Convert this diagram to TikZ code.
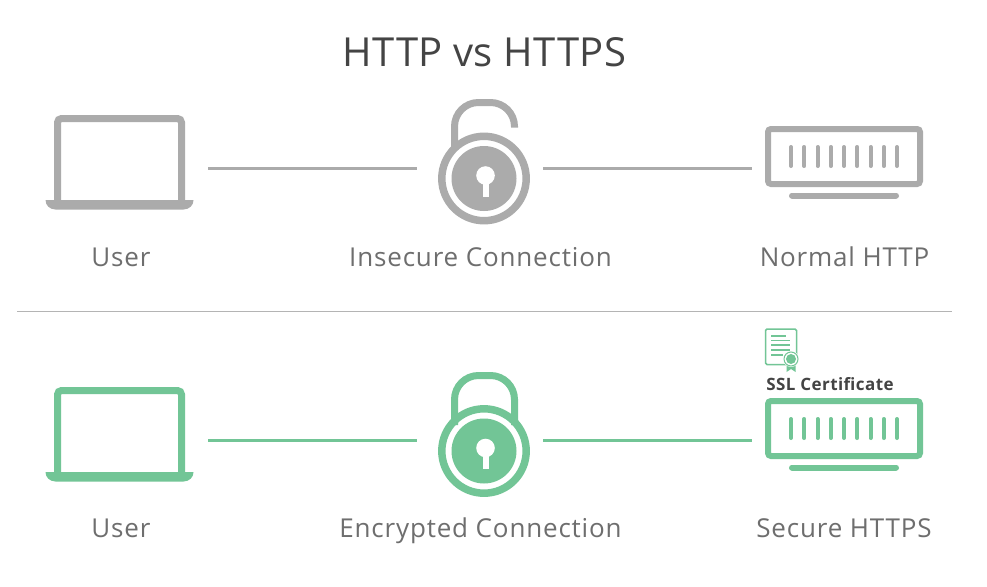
\documentclass[tikz,border=0pt]{standalone}
\usepackage{fontspec}
\setmainfont{Open Sans}[LetterSpace=3.2]
\newfontfamily\ttlfont{Open Sans}[LetterSpace=1]
\newfontfamily\sslfont{Open Sans}[LetterSpace=2.5]
\definecolor{gry}{HTML}{ABABAB}
\definecolor{grn}{HTML}{72C596}
\definecolor{lbl}{HTML}{6E6E6E}
\definecolor{ttl}{HTML}{444444}
\definecolor{dvd}{HTML}{B4B4B4}
\tikzset{
 wire/.style={line width=3pt},
 lab/.style={text=lbl,font=\fontsize{26}{30}\selectfont,inner sep=0pt,anchor=base},
 pics/laptop/.style={code={
  \draw[#1,line width=7pt,rounded corners=4pt] (-62,42) -- (-62,-45.5) -- (62,-45.5) -- (62,42);
  \fill[#1] (-74,36) -- (74,36) .. controls (74,41) and (70,45.5) .. (64,45.5) -- (-64,45.5) .. controls (-70,45.5) and (-74,41) .. (-74,36) -- cycle;
 }},
 pics/lockbody/.style={code={
  \draw[#1,line width=7.5pt] (0,0) circle (42.2);
  \fill[#1] (0,0) circle (32.5);
  \fill[white] (1.5,-3) circle (9.3);
  \fill[white] (-1.5,-3) rectangle (4.5,18);
 }},
 pics/server/.style={code={
  \draw[#1,line width=6pt,rounded corners=3pt] (-76,-27.5) rectangle (76,27.5);
  \foreach \i in {0,...,8}{\draw[#1,line width=4pt,line cap=round] ({-53+\i*13.25},-9.5) -- ({-53+\i*13.25},9.5);}
  \draw[#1,line width=6pt,line cap=round] (-52,39) -- (52,39);
 }},
}
\begin{document}
\begin{tikzpicture}[x=1pt,y=-1pt]
\useasboundingbox (0,0) rectangle (987,586);
\fill[white] (0,0) rectangle (987,586);
\node[text=ttl,font=\fontsize{40}{44}\ttlfont,inner sep=0pt] (title) at (484.5,52) {HTTP vs HTTPS};
% top row
\pic at (119.5,164) {laptop=gry};
\draw[gry,line width=7pt,line cap=butt,rounded corners=24pt] (454.5,150) -- (454.5,102.5) -- (514.5,102.5) -- (514.5,127.5);
\pic at (484,178.5) {lockbody=gry};
\pic at (844,156.5) {server=gry};
\coordinate (a1) at (208,168); \coordinate (a2) at (417,168);
\coordinate (a3) at (543,168); \coordinate (a4) at (752,168);
\draw[wire,gry] (a1) -- (a2);
\draw[wire,gry] (a3) -- (a4);
\node[lab] (u1) at (121,266) {User};
\node[lab] (c1) at (480.5,266) {Insecure Connection};
\node[lab] (s1) at (844.5,266) {Normal HTTP};
% divider
\coordinate (d1) at (17,311); \coordinate (d2) at (952,311);
\draw[dvd,line width=1pt] (d1) -- (d2);
% bottom row
\pic at (119.5,436) {laptop=grn};
\draw[grn,line width=7pt,rounded corners=24pt] (454.5,425) -- (454.5,375.5) -- (514.5,375.5) -- (514.5,425);
\pic at (484,451) {lockbody=grn};
\pic at (844,428.5) {server=grn};
\coordinate (b1) at (208,440); \coordinate (b2) at (417,440);
\coordinate (b3) at (543,440); \coordinate (b4) at (752,440);
\draw[wire,grn] (b1) -- (b2);
\draw[wire,grn] (b3) -- (b4);
\node[lab] (u2) at (121,537) {User};
\node[lab] (c2) at (480.5,537) {Encrypted Connection};
\node[lab] (s2) at (844,537) {Secure HTTPS};
% certificate
\draw[grn,line width=1.5pt,rounded corners=1.5pt] (765.5,329) rectangle (796.5,364.5);
\draw[grn,line width=1.2pt] (771,336) -- (786,336);
\draw[grn,line width=1.2pt] (771,340.5) -- (790,340.5);
\draw[grn,line width=1.2pt] (771,345) -- (790,345);
\draw[grn,line width=1.2pt] (771,350) -- (790,350);
\draw[grn,line width=1.2pt] (771,355) -- (783,355);
\fill[grn] (786.5,362) -- (795.5,362) -- (795.5,372) -- (791,369) -- (786.5,372) -- cycle;
\fill[white] (791,359) circle (8);
\draw[grn,line width=1pt] (791,359) circle (7);
\fill[grn] (791,359) circle (5);
\node[text=ttl,font=\fontsize{17}{19}\sslfont\bfseries,inner sep=0pt] (ssl) at (830,384) {SSL Certificate};
\end{tikzpicture}
\end{document}
